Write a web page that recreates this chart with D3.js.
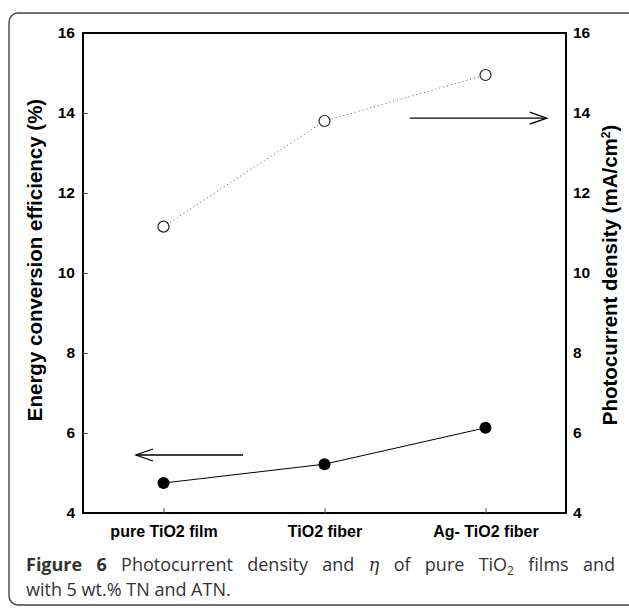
<!DOCTYPE html>
<html><head><meta charset="utf-8">
<script src="https://cdn.jsdelivr.net/npm/d3@7"></script>
<style>body{margin:0;background:#fff}svg{display:block}</style>
</head><body>
<script>
const categories = ["pure TiO2 film", "TiO2 fiber", "Ag- TiO2 fiber"];
const efficiency = [4.75, 5.22, 6.13];        // left axis, filled circles
const photocurrent = [11.16, 13.8, 14.95];    // right axis, open circles
const yTicks = [4, 6, 8, 10, 12, 14, 16];

const W = 629, H = 608;
const m = {l: 83, r: 566, t: 33, b: 513};
const svg = d3.select("body").append("svg").attr("width", W).attr("height", H);

// outer rounded frame
svg.append("rect").attr("x", 9).attr("y", 13).attr("width", 630).attr("height", 592)
  .attr("rx", 9).attr("fill", "none").attr("stroke", "#444").attr("stroke-width", 1.4);

const x = d3.scalePoint().domain(categories).range([m.l, m.r]).padding(0.5);
const xi = d3.scaleLinear().domain([-0.5, 2.5]).range([m.l, m.r]);
const yL = d3.scaleLinear().domain([4, 16]).range([m.b, m.t]);
const yR = d3.scaleLinear().domain([4, 16]).range([m.b, m.t]);

const labelFont = "'Liberation Sans', Arial, sans-serif";

// frame of plot
svg.append("rect").attr("x", m.l).attr("y", m.t).attr("width", m.r - m.l).attr("height", m.b - m.t)
  .attr("fill", "none").attr("stroke", "#000").attr("stroke-width", 2);

// left axis
const gL = svg.append("g").attr("transform", `translate(${m.l},0)`)
  .call(d3.axisRight(yL).tickValues(yTicks).tickSize(5).tickFormat(d3.format("d")));
gL.select(".domain").remove();
gL.selectAll(".tick line").attr("stroke", "#555").attr("stroke-width", 1);
gL.selectAll(".tick text").attr("x", -8).attr("text-anchor", "end")
  .attr("font-family", labelFont).attr("font-weight", "bold").attr("font-size", 15.5).attr("fill", "#000");
gL.selectAll(".tick").filter(d => d === 4 || d === 16).select("line").remove();

// right axis
const gR = svg.append("g").attr("transform", `translate(${m.r},0)`)
  .call(d3.axisRight(yR).tickValues(yTicks).tickSize(0).tickFormat(d3.format("d")));
gR.select(".domain").remove();
gR.selectAll(".tick text").attr("x", 7).attr("text-anchor", "start")
  .attr("font-family", labelFont).attr("font-weight", "bold").attr("font-size", 15.5).attr("fill", "#000");

// bottom axis
const gB = svg.append("g").attr("transform", `translate(0,${m.b})`)
  .call(d3.axisTop(x).tickSize(5));
gB.select(".domain").remove();
gB.selectAll(".tick line").attr("stroke", "#555");
gB.selectAll(".tick text").attr("y", 24).attr("dy", 0)
  .attr("font-family", labelFont).attr("font-weight", "bold").attr("font-size", 16).attr("fill", "#000");

// axis titles
svg.append("text").attr("transform", `translate(42,260) rotate(-90)`).attr("text-anchor", "middle")
  .attr("font-family", labelFont).attr("font-weight", "bold").attr("font-size", 20.5)
  .text("Energy conversion efficiency (%)");
const rt = svg.append("text").attr("transform", `translate(617,275) rotate(-90)`).attr("text-anchor", "middle")
  .attr("font-family", labelFont).attr("font-weight", "bold").attr("font-size", 20.5);
rt.append("tspan").text("Photocurrent density (mA/cm");
rt.append("tspan").attr("dy", -7).attr("font-size", 12).text("2");
rt.append("tspan").attr("dy", 7).text(")");

// photocurrent series (dotted, open circles)
svg.append("path").datum(photocurrent)
  .attr("d", d3.line().x((d, i) => x(categories[i])).y(d => yR(d)))
  .attr("fill", "none").attr("stroke", "#555").attr("stroke-width", 1).attr("stroke-dasharray", "1,3");
svg.selectAll(".open").data(photocurrent).join("circle")
  .attr("cx", (d, i) => x(categories[i])).attr("cy", d => yR(d)).attr("r", 5.5)
  .attr("fill", "#fff").attr("stroke", "#222").attr("stroke-width", 1.2);

// efficiency series (solid, filled circles)
svg.append("path").datum(efficiency)
  .attr("d", d3.line().x((d, i) => x(categories[i])).y(d => yL(d)))
  .attr("fill", "none").attr("stroke", "#000").attr("stroke-width", 1);
svg.selectAll(".filled").data(efficiency).join("circle")
  .attr("cx", (d, i) => x(categories[i])).attr("cy", d => yL(d)).attr("r", 6)
  .attr("fill", "#000");

// arrows
function arrow(x1, x2, yv, dir) {
  const X1 = xi(x1), X2 = xi(x2), Y = yv;
  svg.append("line").attr("x1", X1).attr("x2", X2).attr("y1", Y).attr("y2", Y)
    .attr("stroke", "#000").attr("stroke-width", 1.3);
  const hx = X2 - dir * 17;
  svg.append("path").attr("d", `M${hx},${Y - 6}L${X2},${Y}L${hx},${Y + 6}`)
    .attr("fill", "none").attr("stroke", "#000").attr("stroke-width", 1.3);
}
arrow(1.53, 2.38, yR(13.87), 1);
arrow(0.494, -0.171, yL(5.45), -1);

// caption
const capFont = "'Open Sans', 'Noto Sans', sans-serif";
const c1 = svg.append("text").attr("x", 26).attr("y", 571).attr("font-family", capFont)
  .attr("font-size", 18).attr("fill", "#333");
c1.append("tspan").attr("font-weight", "bold").text("Figure 6");
c1.append("tspan").text(" Photocurrent density and ");
c1.append("tspan").attr("font-style", "italic").attr("font-family", "'DejaVu Serif', serif").text("η");
c1.append("tspan").text(" of pure TiO");
c1.append("tspan").attr("dy", 4).attr("font-size", 12).text("2");
c1.append("tspan").attr("dy", -4).text(" films and");
const natural = c1.node().getComputedTextLength();
const target = 589;
if (natural < target) c1.attr("word-spacing", (target - natural) / 10);
else c1.attr("textLength", target).attr("lengthAdjust", "spacingAndGlyphs");
svg.append("text").attr("x", 26).attr("y", 596).attr("font-family", capFont)
  .attr("font-size", 18).attr("fill", "#333").text("with 5 wt.% TN and ATN.");
</script>
</body></html>
